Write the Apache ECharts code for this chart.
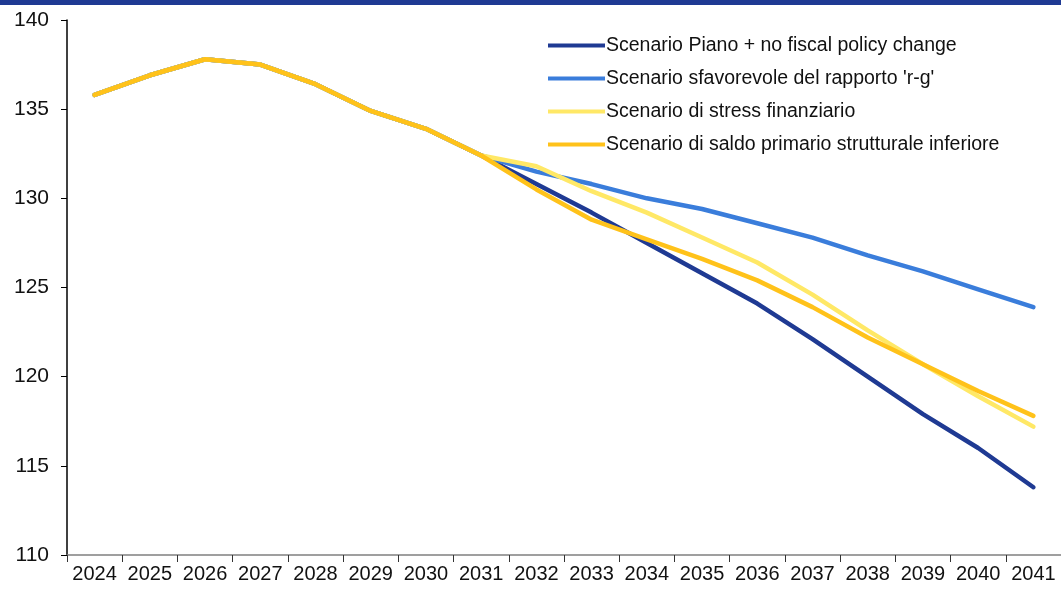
<!DOCTYPE html>
<html>
<head>
<meta charset="utf-8">
<script src="https://cdn.jsdelivr.net/npm/echarts@6/dist/echarts.min.js"></script>
<style>
html,body{margin:0;padding:0;background:#fff;}
#c{width:1061px;height:590px;}
</style>
</head>
<body>
<div id="c"></div>
<script>
const years = ['2024','2025','2026','2027','2028','2029','2030','2031','2032','2033','2034','2035','2036','2037','2038','2039','2040','2041'];
const seriesNames = [
  'Scenario Piano + no fiscal policy change',
  "Scenario sfavorevole del rapporto 'r-g'",
  'Scenario di stress finanziario',
  'Scenario di saldo primario strutturale inferiore'
];
const piano  = [135.8,136.9,137.8,137.5,136.4,134.9,133.9,132.4,130.8,129.2,127.5,125.8,124.1,122.1,120.0,117.9,116.0,113.8];
const rg     = [135.8,136.9,137.8,137.5,136.4,134.9,133.9,132.4,131.5,130.8,130.0,129.4,128.6,127.8,126.8,125.9,124.9,123.9];
const stress = [135.8,136.9,137.8,137.5,136.4,134.9,133.9,132.4,131.8,130.4,129.2,127.8,126.4,124.6,122.6,120.7,118.9,117.2];
const saldo  = [135.8,136.9,137.8,137.5,136.4,134.9,133.9,132.4,130.5,128.8,127.7,126.6,125.4,123.9,122.2,120.7,119.2,117.8];
const colors = ['#1F3A93','#3A7DDB','#FFE866','#FFC21A'];
const yTicks = {min:110, max:140, interval:5};

const chart = echarts.init(document.getElementById('c'), null, {renderer:'canvas'});
const dataSets = [piano, rg, stress, saldo];
const font = 'Liberation Sans, Arial, sans-serif';
chart.setOption({
  animation:false,
  backgroundColor:'#fff',
  color: colors,
  graphic:[{type:'rect', left:0, top:0, shape:{width:1061, height:5}, style:{fill:'#1F3A93'}}],
  grid:{left:67, right:0, top:20, bottom:35, containLabel:false},
  legend:{
    orient:'vertical', left:548, top:35, padding:0,
    icon:'rect', itemWidth:57, itemHeight:4, itemGap:12,
    textStyle:{fontFamily:font, fontSize:19.5, color:'#111', padding:[0,0,0,-4], lineHeight:21},
    data: seriesNames
  },
  xAxis:{
    type:'category', data:years, boundaryGap:true,
    axisLine:{lineStyle:{color:'#808080', width:1.5}},
    axisTick:{show:true, length:7, lineStyle:{color:'#333', width:1}},
    axisLabel:{fontFamily:font, fontSize:20, color:'#111', margin:9, interval:0}
  },
  yAxis:{
    type:'value', min:yTicks.min, max:yTicks.max, interval:yTicks.interval,
    axisLine:{show:true, lineStyle:{color:'#000', width:1.5}},
    axisTick:{show:true, length:6, lineStyle:{color:'#000', width:1}},
    splitLine:{show:false},
    axisLabel:{fontFamily:font, fontSize:21, color:'#111', margin:18}
  },
  series: dataSets.map((d,i)=>({
    name: seriesNames[i], type:'line', data:d, symbol:'none', smooth:false,
    lineStyle:{width:4.5, color:colors[i], cap:'round', join:'round'},
    itemStyle:{color:colors[i]}
  }))
});
</script>
</body>
</html>
